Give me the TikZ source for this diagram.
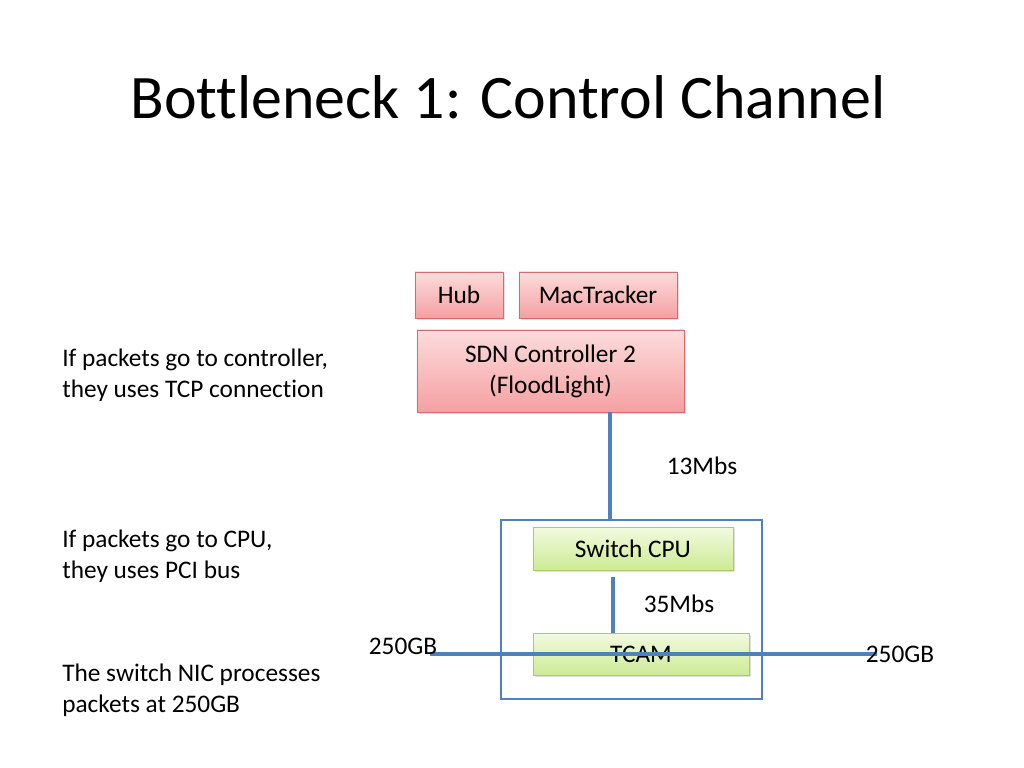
\documentclass[tikz,border=0pt]{standalone}
\usepackage{fontspec}
\setmainfont[Ligatures={NoCommon}]{Carlito}
\usepackage{xcolor}
\usetikzlibrary{shadows}

\definecolor{linkblue}{HTML}{4F81BD}
\definecolor{pinktop}{HTML}{FCDCDC}
\definecolor{pinkbot}{HTML}{F5A0A2}
\definecolor{pinkline}{HTML}{D8696C}
\definecolor{greentop}{HTML}{F2FADF}
\definecolor{greenbot}{HTML}{CDEB95}
\definecolor{greenline}{HTML}{A9CB6E}

\tikzset{
  pinkbox/.style={draw=pinkline, line width=0.6pt, top color=pinktop, bottom color=pinkbot,
    drop shadow={opacity=0.25, shadow xshift=1.5pt, shadow yshift=-1.5pt},
    align=center, font=\fontsize{18}{22}\selectfont, inner sep=0pt},
  greenbox/.style={draw=greenline, line width=0.6pt, top color=greentop, bottom color=greenbot,
    drop shadow={opacity=0.25, shadow xshift=1.5pt, shadow yshift=-1.5pt},
    align=center, font=\fontsize{18}{22}\selectfont, inner sep=0pt},
  link/.style={draw=linkblue, line width=2.2pt},
  note/.style={anchor=west, align=left, font=\fontsize{18}{22}\selectfont, inner sep=0pt},
  rate/.style={font=\fontsize{18}{22}\selectfont, inner sep=0pt}
}

\begin{document}
\begin{tikzpicture}[x=0.025cm, y=-0.025cm]
\useasboundingbox (0,0) rectangle (1024,768);

% title
\node (title) at (508,97) {\fontsize{44}{52}\selectfont Bottleneck 1: Control Channel};

% controller side
\node[pinkbox, minimum width=2.2cm, minimum height=1.15cm] (hub) at (459,295) {Hub};
\node[pinkbox, minimum width=3.95cm, minimum height=1.15cm] (mac) at (598,295) {MacTracker};
\node[pinkbox, minimum width=6.675cm, minimum height=2.05cm] (sdn) at (550.5,371) {SDN Controller 2\\(FloodLight)};

% switch
\node[draw=linkblue, line width=0.8pt, minimum width=6.525cm, minimum height=4.475cm] (switch) at (631.5,609.5) {};
\node[greenbox, minimum width=5cm, minimum height=1.075cm] (cpu) at (633,548.5) {Switch CPU};
\node[greenbox, minimum width=5.4cm, minimum height=1.05cm] (tcam) at (641,654) {TCAM};

% links
\coordinate (ctl) at (610,0);
\draw[link] (sdn.south -| ctl) -- (switch.north -| ctl);
\node[rate] (r13) at (702,466) {13Mbs};

\coordinate (cpuout) at (613,577);
\draw[link] (cpuout) -- (cpuout |- tcam.north);
\node[rate] (r35) at (679,604) {35Mbs};

\coordinate (nicL) at (430,654);
\coordinate (nicR) at (877,654);
\draw[link] (nicL) -- (nicR);
\node[rate] (inrate) at (403,646) {250GB};
\node[rate] (outrate) at (900,654) {250GB};

% notes
\node[note] (n1) at (62,375) {If packets go to controller,\\they uses TCP connection};
\node[note] (n2) at (62,556) {If packets go to CPU,\\they uses PCI bus};
\node[note] (n3) at (62,690) {The switch NIC processes\\packets at 250GB};
\end{tikzpicture}
\end{document}
